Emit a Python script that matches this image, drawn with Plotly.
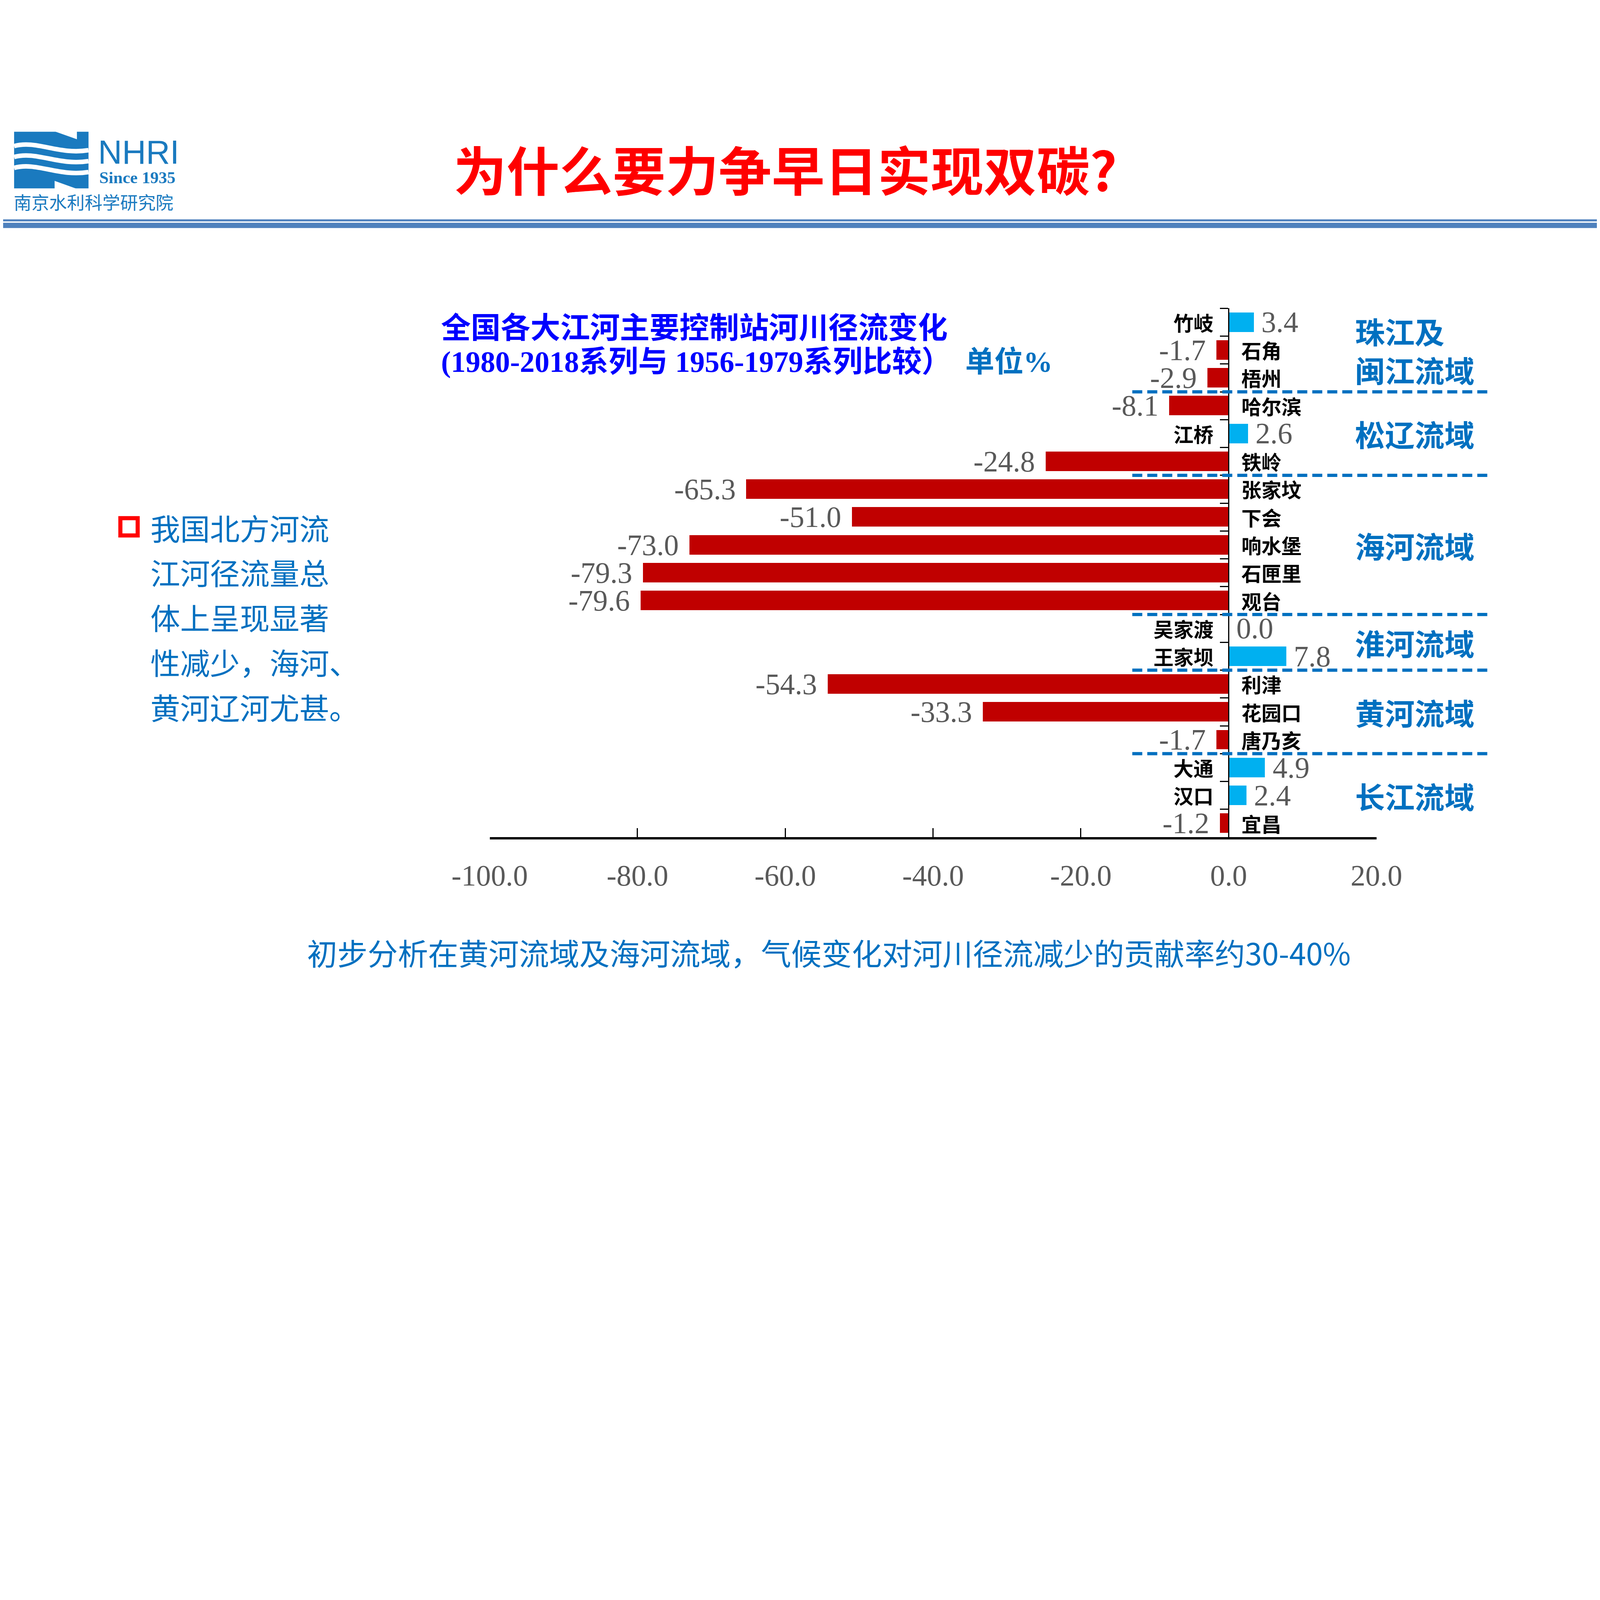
import plotly.graph_objects as go

# reference slide is 7016 x 4961; the page is drawn at K of that size in CSS pixels
W, H = 7016, 4961
K = 0.5825
OFF = 8 / K  # page margin of the browser, in slide pixels

# ---- data ----
stations = ["竹岐", "石角", "梧州", "哈尔滨", "江桥", "铁岭", "张家坟", "下会", "响水堡",
            "石匣里", "观台", "吴家渡", "王家坝", "利津", "花园口", "唐乃亥", "大通", "汉口", "宜昌"]
change = [3.4, -1.7, -2.9, -8.1, 2.6, -24.8, -65.3, -51.0, -73.0,
          -79.3, -79.6, 0.0, 7.8, -54.3, -33.3, -1.7, 4.9, 2.4, -1.2]
basins = ["珠江及<br>闽江流域", "松辽流域", "海河流域", "淮河流域", "黄河流域", "长江流域"]
basin_sizes = [3, 3, 5, 2, 3, 3]
x_ticks = [-100, -80, -60, -40, -20, 0, 20]

title = "为什么要力争早日实现双碳?"
chart_title = "全国各大江河主要控制站河川径流变化"
chart_sub = "(1980-2018系列与 1956-1979系列比较）"
unit = "单位%"
bullet_lines = ["我国北方河流", "江河径流量总", "体上呈现显著", "性减少，海河、", "黄河辽河尤甚。"]
footnote = "初步分析在黄河流域及海河流域，气候变化对河川径流减少的贡献率约30-40%"

RED = "#C00000"
BLUE = "#00B0F0"
TXT_BLUE = "#0070C0"
GREY = "#595959"
LOGO = "#1a7abf"
CJK = "Noto Sans CJK SC"
SERIF = "Liberation Serif, Times New Roman, serif"


def px(x):
    return (x - OFF) / W


def py(y):
    return 1 - (y - OFF) / H


def sz(v):
    return v * K


def text(x, y, s, size, color, family=CJK, xanchor="left", **kw):
    # paper-positioned text, given in slide pixels from the top-left corner
    return dict(x=px(x), y=py(y), xref="paper", yref="paper", text=s, showarrow=False,
                xanchor=xanchor, yanchor="middle",
                font=dict(family=family, size=sz(size), color=color), **kw)


xd = [px(2152), px(6049)]
yd = [py(3679), py(1355)]
zero_pos = xd[0] + (xd[1] - xd[0]) * (0 - x_ticks[0]) / (x_ticks[-1] - x_ticks[0])

fig = go.Figure(go.Bar(
    x=change, y=stations, orientation="h", width=0.7,
    marker=dict(color=[RED if v < 0 else BLUE for v in change], line_width=0),
    hoverinfo="x+y",
))

ann = []
shapes = []

# value labels and station names
for s, v in zip(stations, change):
    neg = v < 0
    ann.append(dict(x=v, y=s, xref="x", yref="y", text=f"{v:.1f}", showarrow=False,
                    xanchor="right" if neg else "left", yanchor="middle",
                    xshift=sz(-42 if neg else 30),
                    font=dict(family=SERIF, size=sz(130), color=GREY)))
    ann.append(dict(x=0, y=s, xref="x", yref="y", text=f"<b>{s}</b>", showarrow=False,
                    xanchor="left" if neg else "right", yanchor="middle",
                    xshift=sz(52 if neg else -62),
                    font=dict(family=CJK, size=sz(88), color="black")))

# basin names and dashed separators
start = 0
for i, (b, n) in enumerate(zip(basins, basin_sizes)):
    ann.append(dict(x=px(5951), y=start + (n - 1) / 2, xref="paper", yref="y",
                    text=f"<b>{b}</b>", showarrow=False, xanchor="left", yanchor="middle",
                    align="left", font=dict(family=CJK, size=sz(131), color=TXT_BLUE)))
    start += n
    if i < len(basins) - 1:
        shapes.append(dict(type="line", xref="paper", yref="y", x0=px(4976), x1=px(6538),
                           y0=start - 0.5, y1=start - 0.5,
                           line=dict(color=TXT_BLUE, width=sz(14),
                                     dash=f"{sz(44):.1f}px,{sz(22):.1f}px")))

# headline and chart titles
ann.append(text(3450, 738, f"<b>{title}</b>", 233, "#FF0000", xanchor="center"))
ann.append(text(1935, 1429, f"<b>{chart_title}</b>", 131, "#0000FF"))
ann.append(text(1935, 1592, f"<b>{chart_sub}</b>", 130, "#0000FF", family=SERIF + ", " + CJK))
ann.append(text(4239, 1592, f"<b>{unit}</b>", 128, TXT_BLUE, family=SERIF + ", " + CJK))

# bullet text on the left
for i, line in enumerate(bullet_lines):
    ann.append(text(658, 2316 + i * 197, line, 131, TXT_BLUE))
shapes.append(dict(type="rect", xref="paper", yref="paper", x0=px(529), x1=px(605),
                   y0=py(2353), y1=py(2277), line=dict(color="#FF0000", width=sz(18))))

ann.append(text(3642, 4184, footnote, 133, TXT_BLUE, xanchor="center"))

# header rules
shapes.append(dict(type="rect", xref="paper", yref="paper", x0=0, x1=1, y0=py(973), y1=py(964),
                   fillcolor="#4f81bd", line_width=0))
shapes.append(dict(type="rect", xref="paper", yref="paper", x0=0, x1=1, y0=py(1002), y1=py(979),
                   fillcolor="#4f81bd", line_width=0))

# logo block
L, R, T, B = 62, 389, 579, 828
shapes.append(dict(type="rect", xref="paper", yref="paper", x0=px(L), x1=px(R), y0=py(B), y1=py(T),
                   fillcolor=LOGO, line_width=0))
w = R - L
for off in [642, 690, 738]:
    p = (f"M {px(L)} {py(off)} C {px(L + 0.3 * w)} {py(off - 28)} {px(L + 0.6 * w)} {py(off + 40)} "
         f"{px(R)} {py(off + 18)}")
    shapes.append(dict(type="path", xref="paper", yref="paper", path=p,
                       line=dict(color="white", width=sz(20))))
shapes.append(dict(type="path", xref="paper", yref="paper",
                   path=f"M {px(240)} {py(T - 2)} L {px(338)} {py(T - 2)} L {px(338)} {py(612)} Z",
                   fillcolor="white", line_width=0))
shapes.append(dict(type="path", xref="paper", yref="paper",
                   path=f"M {px(240)} {py(795)} L {px(240)} {py(B + 2)} L {px(338)} {py(B + 2)} Z",
                   fillcolor="white", line_width=0))
ann.append(text(428, 668, "NHRI", 146, LOGO, family="Liberation Sans Narrow, Liberation Sans"))
ann.append(text(432, 781, "<b>Since 1935</b>", 74, LOGO, family=SERIF))
ann.append(text(56, 886, "南京水利科学研究院", 78, LOGO))

fig.update_layout(
    width=round(W * K), height=round(H * K),
    margin=dict(l=0, r=0, t=0, b=0, pad=0, autoexpand=False),
    paper_bgcolor="white", plot_bgcolor="white",
    showlegend=False,
    bargap=0,
    xaxis=dict(domain=xd, range=[x_ticks[0], x_ticks[-1]], tickvals=x_ticks,
               ticktext=[f"{v:.1f}" for v in x_ticks], ticks="inside", ticklen=sz(40),
               tickwidth=sz(5), tickcolor="black", showline=True, linecolor="black",
               linewidth=sz(10), showgrid=False, zeroline=False, automargin=False,
               ticklabelstandoff=round(sz(46)),
               tickfont=dict(family=SERIF, size=sz(130), color=GREY)),
    yaxis=dict(domain=yd, range=[len(stations) - 0.5, -0.5], anchor="free", position=zero_pos,
               showticklabels=False, ticks="outside", tickson="boundaries", ticklen=sz(37),
               tickwidth=sz(6), tickcolor="black", showline=True, linecolor="black",
               linewidth=sz(6), showgrid=False, zeroline=False, automargin=False),
    annotations=ann,
    shapes=shapes,
)

fig.write_html("out.html")
